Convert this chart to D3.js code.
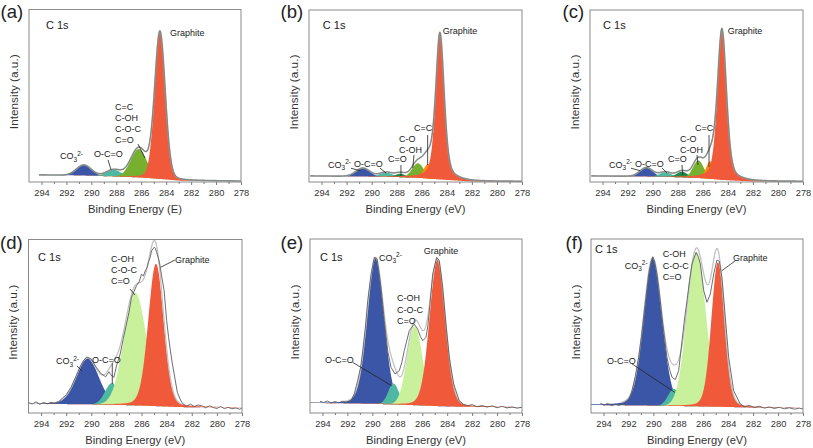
<!DOCTYPE html>
<html><head><meta charset="utf-8">
<script src="https://cdn.jsdelivr.net/npm/d3@7"></script>
<style>
body{margin:0;background:#fff;}
svg{display:block;font-family:"Liberation Sans",Arial,Helvetica,sans-serif;}
</style></head><body>
<svg id="chart" width="813" height="448"></svg>
<script>
// ---------------- data ----------------
const majorTicks = [294, 292, 290, 288, 286, 284, 282, 280, 278];
const minorTicks = [293, 291, 289, 287, 285, 283, 281, 279];
const energyDomain = [295, 278];
const panelLetters = ["(a)", "(b)", "(c)", "(d)", "(e)", "(f)"];
const xTitles = ["Binding Energy (E)", "Binding Energy (eV)", "Binding Energy (eV)",
                 "Binding Energy (eV)", "Binding Energy (eV)", "Binding Energy (eV)"];
const yTitle = "Intensity (a.u.)";
const coreLevel = "C 1s";

// fitted components: [component, centre (eV), height (% of frame), FWHM (eV), Lorentz fraction]
const peaksA = [["carbonate", 290.6, 6.1, 1.4, 0], ["carboxyl", 288.2, 3.8, 1.4, 0],
                ["oxygenated", 286.2, 16.5, 1.5, 0], ["graphite", 284.5, 85.3, 1.0, 0.15]];
const peaksB = [["carbonate", 290.7, 4.8, 1.3, 0], ["carboxyl", 288.85, 2.5, 1.2, 0],
                ["carbonyl", 287.7, 2.0, 0.9, 0], ["oxygenated", 286.3, 8.5, 1.1, 0],
                ["sp2", 285.5, 8.5, 0.8, 0], ["graphite", 284.55, 85.3, 0.8, 0.45]];
const peaksC = [["carbonate", 290.5, 5.1, 1.2, 0], ["carboxyl", 288.98, 2.7, 1.1, 0],
                ["carbonyl", 287.65, 3.3, 1.0, 0], ["oxygenated", 286.35, 10.2, 1.0, 0],
                ["sp2", 285.4, 10.2, 0.8, 0], ["graphite", 284.47, 87.7, 0.85, 0.4]];
const peaksD = [["carbonate", 290.3, 26.5, 2.1, 0.15], ["carboxyl", 288.35, 12.5, 1.3, 0],
                ["oxygenatedLight", 286.5, 65, 2.1, 0], ["graphite", 284.85, 82, 1.45, 0.15]];
const peaksE = [["carbonate", 289.75, 84, 1.6, 0.12], ["carboxyl", 288.3, 12, 1.0, 0],
                ["oxygenatedLight", 286.6, 45.5, 1.45, 0], ["graphite", 284.78, 84, 1.5, 0.12]];
const peaksF = [["carbonate", 290.05, 85, 1.75, 0.15], ["carboxyl", 288.35, 9.8, 1.1, 0],
                ["oxygenatedLight", 286.55, 88.5, 1.8, 0], ["graphite", 284.82, 83, 1.25, 0.15]];

// background (eV, % of frame)
const baseA = [[295, 4.2], [291, 3.8], [288, 3.2], [286, 2.6], [284.5, 1.8], [283, 0.8], [278, 0.5]];
const baseB = [[295, 3.5], [291, 3.2], [288, 2.9], [286, 2.3], [284, 1.2], [282, 0.3], [278, 0.3]];
const baseC = [[295, 3.5], [291, 3.2], [288, 2.8], [286, 2.2], [284, 1.0], [282, 0.3], [278, 0.3]];
const baseD = [[295, 5.3], [290, 5.0], [287, 4.5], [285, 4.0], [283, 3.4], [278, 3.2]];
const baseE = [[295, 5.8], [290, 5.3], [287, 4.6], [285, 4.0], [283, 3.6], [278, 3.3]];
const baseF = [[295, 4.6], [290, 4.2], [287, 3.9], [285, 3.6], [283, 3.3], [278, 2.8]];

// measured spectra of the lower row (eV, % of frame)
const rawD = [[295.0,6.0],[294.7,5.2],[294.4,6.4],[294.1,5.0],[293.8,6.1],[293.5,5.3],[293.2,6.2],[292.9,5.6],
  [292.6,6.5],[292.3,8.5],[292.0,10.5],[291.6,15],[291.2,21.5],[290.9,26.5],[290.6,30.5],[290.35,32.3],
  [290.0,31.1],[289.6,26.3],[289.2,22.5],[288.85,20.9],[288.6,23.8],[288.45,22.0],[288.2,20.5],[288.0,27],
  [287.7,34],[287.45,43],[287.2,51.3],[287.0,58],[286.8,66.7],[286.6,70],[286.4,73.4],[286.2,75.5],[286.0,80],
  [285.85,79],[285.7,82],[285.55,84],[285.45,86.9],[285.3,90],[285.2,93.5],[285.0,95.5],[284.9,95],[284.8,92.6],
  [284.65,89],[284.55,85.9],[284.4,79],[284.2,70.5],[284.0,53.2],[283.85,44],[283.7,35.9],[283.55,28.5],
  [283.4,22.5],[283.15,12],[282.9,7.5],[282.7,5.2],[282.4,4.0],[282.1,5.1],[281.8,3.8],[281.5,4.6],[281.2,4.2],
  [280.9,3.0],[280.6,4.1],[280.3,3.2],[280.0,2.6],[279.7,3.8],[279.4,2.5],[279.1,3.3],[278.8,2.4],[278.5,2.9],
  [278.2,2.2],[278.0,2.8]];
const rawE = [[294.2,6.7],[293.9,6.0],[293.6,6.9],[293.3,5.8],[293.0,6.6],[292.7,5.9],[292.4,6.8],[292.1,6.3],
  [291.7,7.1],[291.45,11],[291.18,18.6],[290.95,26],[290.77,35.8],[290.55,50],[290.37,64.6],[290.1,79.9],
  [289.84,89.5],[289.62,88.5],[289.45,80],[289.31,72.2],[289.04,53.1],[288.77,35.8],[288.5,26.2],[288.18,22.4],
  [287.84,24.3],[287.64,29],[287.44,35.8],[287.04,47.3],[286.64,51.1],[286.37,48.3],[286.15,44],[285.96,41.6],
  [285.7,43.5],[285.55,50],[285.43,58.8],[285.16,79.9],[284.84,89.5],[284.63,87.5],[284.36,72.2],[284.1,51.1],
  [283.83,32],[283.48,16.7],[283.03,7.1],[282.7,5.0],[282.35,4.2],[282.0,4.8],[281.6,3.6],[281.2,4.3],[280.8,3.4],
  [280.4,4.1],[280.0,3.0],[279.6,3.8],[279.2,2.9],[278.8,3.5],[278.4,2.8],[278.0,3.3]];
const rawF = [[294.25,5.6],[293.95,4.6],[293.65,5.5],[293.35,4.2],[293.05,5.1],[292.75,4.4],[292.45,5.3],
  [292.25,4.6],[291.95,7.5],[291.71,12.8],[291.45,21],[291.18,32],[290.95,44],[290.78,55],[290.55,69],
  [290.37,79.9],[290.2,86.5],[290.05,89.8],[289.9,87],[289.71,79.9],[289.5,68],[289.31,55],[289.1,43],
  [288.91,32],[288.7,25],[288.5,20.5],[288.24,19.2],[287.97,24.3],[287.7,41.6],[287.5,54],[287.3,64.6],
  [287.1,76],[286.9,85.6],[286.58,92.3],[286.4,90],[286.23,85.6],[285.96,70.3],[285.7,63.6],[285.43,68.4],
  [285.16,79.9],[284.9,87.9],[284.71,87.2],[284.5,78],[284.23,55],[283.96,32],[283.56,12.8],[283.03,5.2],
  [282.7,3.6],[282.3,4.4],[281.9,3.1],[281.5,3.9],[281.1,2.8],[280.7,3.5],[280.3,2.6],[279.9,3.3],[279.5,2.4],
  [279.1,3.0],[278.7,2.2],[278.3,2.8],[278.0,2.3]];

// ---------------- styles / layout ----------------
const componentColors = {
  carbonate: "#3b56a6", carboxyl: "#4fb8a0", carbonyl: "#1f8a4e",
  oxygenated: "#76b02e", sp2: "#ff8c0a", graphite: "#f05a3a", oxygenatedLight: "#c9f09b"
};
const frames = [
  {x0: 29, x1: 241, y0: 9.5, y1: 182}, {x0: 309, x1: 522, y0: 10, y1: 182}, {x0: 590, x1: 803, y0: 10, y1: 182},
  {x0: 28.5, x1: 242, y0: 239.5, y1: 413}, {x0: 310, x1: 522, y0: 239, y1: 413}, {x0: 591, x1: 803, y0: 239, y1: 413}
];
const letterPos = [[0.5, 18], [280.5, 18], [562.5, 18], [0, 249], [280.5, 249], [565.5, 249]];
const allPeaks = [peaksA, peaksB, peaksC, peaksD, peaksE, peaksF];
const allBases = [baseA, baseB, baseC, baseD, baseE, baseF];
const allRaw = [null, null, null, rawD, rawE, rawF];
const envStart = [294.2, 294.9, 294.9, 292.8, 292.3, 292.6];
const envEnd = [278, 278, 278, 282.8, 282.8, 282.9];

// annotations: text lines at (eV, % height); leaders [e1, v1, e2, v2]
const labels = [
  [{t: coreLevel, e: 293.64, v: 88.7, big: true}, {t: "Graphite", e: 283.69, v: 84.6},
   {t: ["C=C", "C-OH", "C-O-C", "C=O"], e: 288.1, v: 42.0}, {t: "O-C=O", e: 289.79, v: 14.5},
   {co3: true, e: 292.51, v: 13.3}],
  [{t: coreLevel, e: 293.9, v: 89, big: true}, {t: "Graphite", e: 284.33, v: 86},
   {t: "C=C", e: 286.62, v: 29.4}, {t: ["C-O", "C-OH"], e: 287.82, v: 23.5},
   {t: "C=O", e: 288.7, v: 11.9}, {t: "O-C=O", e: 291.41, v: 9.0}, {co3: true, e: 293.48, v: 8.4}],
  [{t: coreLevel, e: 293.96, v: 89, big: true}, {t: "Graphite", e: 284.0, v: 86},
   {t: "C=C", e: 286.62, v: 29.4}, {t: ["C-O", "C-OH"], e: 287.82, v: 23.5},
   {t: "C=O", e: 288.77, v: 11.9}, {t: "O-C=O", e: 291.4, v: 9.0}, {co3: true, e: 293.48, v: 8.4}],
  [{t: coreLevel, e: 294.24, v: 87.6, big: true}, {t: ["C-OH", "C-O-C", "C=O"], e: 288.43, v: 87.3},
   {t: "Graphite", e: 283.34, v: 86.2}, {t: "O-C=O", e: 289.94, v: 29.1}, {co3: true, e: 292.81, v: 28}],
  [{t: coreLevel, e: 294.2, v: 87.4, big: true}, {co3: true, e: 289.47, v: 87.4},
   {t: "Graphite", e: 285.88, v: 91.1}, {t: ["C-OH", "C-O-C", "C=O"], e: 288.02, v: 64.1},
   {t: "O-C=O", e: 293.8, v: 29}],
  [{t: coreLevel, e: 294.68, v: 92, big: true}, {co3: true, e: 292.3, v: 83},
   {t: ["C-OH", "C-O-C", "C=O"], e: 289.25, v: 89.4}, {t: "Graphite", e: 283.61, v: 87.4},
   {t: "O-C=O", e: 293.72, v: 28.4}]
];
const leaders = [
  [[286.26, 22, 285.7, 13.9], [288.66, 12.8, 288.42, 7.0]],
  [[285.53, 27.3, 285.53, 9.9], [286.62, 15.7, 286.72, 8.1], [287.66, 9.9, 287.66, 3.5],
   [289.33, 8.1, 288.85, 5.2], [291.65, 8, 290.9, 6.6]],
  [[285.5, 27.3, 285.5, 8.7], [286.46, 15.7, 286.38, 9.9], [287.66, 9.9, 287.6, 4.1],
   [289.25, 8.1, 288.85, 5.2], [291.73, 8, 291.0, 6.6]],
  [[286.92, 71.5, 286.52, 68], [284.47, 84, 283.34, 88.2], [288.33, 28.8, 288.33, 16.7], [291.14, 27.1, 290.74, 24.2]],
  [[291.58, 29.1, 288.45, 15.7]],
  [[284.5, 81.8, 283.43, 87.5], [291.71, 28.2, 288.29, 11.9]]
];

// ---------------- drawing ----------------
const svg = d3.select("#chart");
const grid = d3.range(295, 277.99, -0.02);
function profile(e, c, f, m) {
  const x = (e - c) / (f / 2);
  return (1 - m) * Math.exp(-Math.LN2 * x * x) + m / (1 + x * x);
}

frames.forEach((f, i) => {
  const g = svg.append("g");
  const x = d3.scaleLinear().domain(energyDomain).range([f.x0, f.x1]);
  const y = d3.scaleLinear().domain([0, 100]).range([f.y1, f.y0]);
  const bl = d3.scaleLinear().domain(allBases[i].map(d => d[0])).range(allBases[i].map(d => d[1])).clamp(true);
  const peaks = allPeaks[i];

  const clipId = "clip" + i;
  svg.append("clipPath").attr("id", clipId).append("rect")
    .attr("x", f.x0).attr("y", f.y0).attr("width", f.x1 - f.x0).attr("height", f.y1 - f.y0);
  const plot = g.append("g").attr("clip-path", `url(#${clipId})`);

  peaks.forEach(p => {
    const [name, c, h, w, m] = p;
    const area = d3.area()
      .defined(e => h * profile(e, c, w, m) > 0.05)
      .x(e => x(e)).y0(e => y(bl(e))).y1(e => y(bl(e) + h * profile(e, c, w, m)));
    plot.append("path").attr("d", area(grid)).attr("fill", componentColors[name]);
  });

  const sum = e => peaks.reduce((s, p) => s + p[2] * profile(e, p[1], p[3], p[4]), 0);
  const envGrid = grid.filter(e => e <= envStart[i] + 1e-9 && e >= envEnd[i] - 1e-9);
  const envLine = d3.line().x(e => x(e)).y(e => y(bl(e) + sum(e)));
  if (allRaw[i]) {
    plot.append("path").attr("d", envLine(envGrid)).attr("fill", "none")
      .attr("stroke", "#c2c2c2").attr("stroke-width", 1.3);
    const rawLine = d3.line().x(d => x(d[0])).y(d => y(d[1]));
    plot.append("path").attr("d", rawLine(allRaw[i])).attr("fill", "none")
      .attr("stroke", "#5e5e5e").attr("stroke-width", 0.9);
  } else {
    plot.append("path").attr("d", envLine(envGrid)).attr("fill", "none")
      .attr("stroke", "#9aa39e").attr("stroke-width", 1.6);
    plot.append("path").attr("d", envLine(envGrid)).attr("fill", "none")
      .attr("stroke", "#6f6f6f").attr("stroke-width", 0.6);
  }

  // frame
  g.append("rect").attr("x", f.x0).attr("y", f.y0).attr("width", f.x1 - f.x0).attr("height", f.y1 - f.y0)
    .attr("fill", "none").attr("stroke", "#8a8a8a").attr("stroke-width", 1);

  // axes
  const ax = g.append("g").attr("transform", `translate(0,${f.y1})`)
    .call(d3.axisBottom(x).tickValues(majorTicks).tickSize(3).tickPadding(4.3).tickFormat(d3.format("d")));
  ax.select(".domain").remove();
  ax.selectAll("line").attr("stroke", "#7a7a7a");
  ax.selectAll("text").attr("fill", "#333").attr("font-size", 9.3).attr("font-family", null);
  const mn = g.append("g").attr("transform", `translate(0,${f.y1})`)
    .call(d3.axisBottom(x).tickValues(minorTicks).tickSize(2).tickFormat(""));
  mn.select(".domain").remove();
  mn.selectAll("line").attr("stroke", "#7a7a7a");

  // titles
  g.append("text").attr("x", (f.x0 + f.x1) / 2).attr("y", f.y1 + 31).attr("text-anchor", "middle")
    .attr("font-size", 11.2).attr("fill", "#333").text(xTitles[i]);
  g.append("text").attr("transform", `translate(${f.x0 - 11.5},${(f.y0 + f.y1) / 2 - 4}) rotate(-90)`)
    .attr("text-anchor", "middle").attr("font-size", 11.8).attr("fill", "#333").text(yTitle);
  g.append("text").attr("x", letterPos[i][0]).attr("y", letterPos[i][1]).attr("font-size", 18.5)
    .attr("fill", "#222").text(panelLetters[i]);

  // annotations
  labels[i].forEach(l => {
    if (l.co3) {
      const t = g.append("text").attr("x", x(l.e)).attr("y", y(l.v)).attr("font-size", 9).attr("fill", "#222");
      t.append("tspan").text("CO");
      t.append("tspan").attr("font-size", 6.5).attr("dy", 2.5).text("3");
      t.append("tspan").attr("font-size", 6.5).attr("dy", -6).text("2-");
    } else {
      const lines = Array.isArray(l.t) ? l.t : [l.t];
      lines.forEach((s, k) => {
        g.append("text").attr("x", x(l.e)).attr("y", y(l.v) + k * 11.2)
          .attr("font-size", l.big ? 11 : 9).attr("fill", "#222").text(s);
      });
    }
  });
  leaders[i].forEach(d => {
    g.append("line").attr("x1", x(d[0])).attr("y1", y(d[1])).attr("x2", x(d[2])).attr("y2", y(d[3]))
      .attr("stroke", "#222").attr("stroke-width", 0.8);
  });
});
</script>
</body></html>
